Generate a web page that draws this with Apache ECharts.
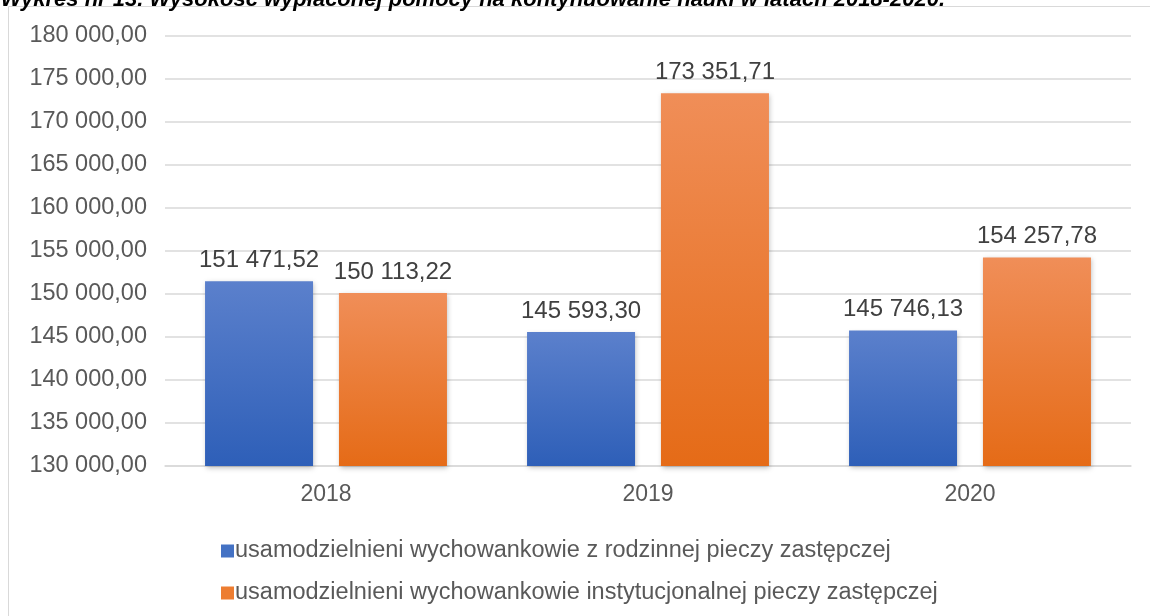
<!DOCTYPE html>
<html>
<head>
<meta charset="utf-8">
<style>
  html, body { margin: 0; padding: 0; background: #fff; }
  #container { width: 1150px; height: 616px; }
</style>
<script src="https://cdn.jsdelivr.net/npm/echarts@6/dist/echarts.min.js"></script>
</head>
<body>
<div id="container"></div>
<script>
var years = ['2018', '2019', '2020'];
var rodzinna = [151471.52, 145593.30, 145746.13];
var instytucjonalna = [150113.22, 173351.71, 154257.78];
var seriesNames = [
    'usamodzielnieni wychowankowie z rodzinnej pieczy zastępczej',
    'usamodzielnieni wychowankowie instytucjonalnej pieczy zastępczej'
];
var titleText = 'Wykres nr 13. Wysokość wypłaconej pomocy na kontynuowanie nauki w latach 2018-2020.';

// 151 471,52 style
function fmt(v){
    var parts = v.toFixed(2).split('.');
    return parts[0].replace(/\B(?=(\d{3})+(?!\d))/g, ' ') + ',' + parts[1];
}

function grad(top, bottom){
    return new echarts.graphic.LinearGradient(0, 0, 0, 1, [
        {offset: 0, color: top},
        {offset: 1, color: bottom}
    ]);
}

var font = '"Liberation Sans", Arial, sans-serif';
var myChart = echarts.init(document.getElementById('container'));

var option = {
    animation: false,
    textStyle: { fontFamily: font },
    graphic: [
        {
            type: 'rect',
            shape: { x: 8.5, y: 6.5, width: 1200, height: 700 },
            style: { fill: 'none', stroke: '#d9d9d9', lineWidth: 1 },
            silent: true
        },
        {
            type: 'text',
            x: 945, y: 11,
            style: {
                text: titleText,
                align: 'right',
                verticalAlign: 'bottom',
                font: 'italic bold 22px "Liberation Sans", Arial, sans-serif',
                fill: '#000'
            },
            silent: true
        }
    ],
    legend: {
        orient: 'vertical',
        left: 216,
        top: 534,
        itemWidth: 13,
        itemHeight: 13,
        itemGap: 18,
        icon: 'rect',
        textStyle: { fontSize: 23.5, color: '#595959', fontFamily: font, padding: [0, 0, 0, -4] },
        data: [
            { name: seriesNames[0], itemStyle: { color: '#4472c4' } },
            { name: seriesNames[1], itemStyle: { color: '#ed7d31' } }
        ]
    },
    grid: { left: 165, right: 19, top: 36, bottom: 150 },
    xAxis: {
        type: 'category',
        data: years,
        axisLine: { lineStyle: { color: '#d9d9d9', width: 1.5 } },
        axisTick: { show: false },
        axisLabel: { fontSize: 23, color: '#595959', margin: 17, fontFamily: font }
    },
    yAxis: {
        type: 'value',
        min: 130000,
        max: 180000,
        interval: 5000,
        axisLine: { show: false },
        axisTick: { show: false },
        splitLine: { lineStyle: { color: '#d9d9d9', width: 1.5 } },
        axisLabel: {
            fontSize: 23.5, color: '#595959', margin: 18, fontFamily: font,
            formatter: function(v){ return fmt(v); }
        }
    },
    series: [
        {
            name: seriesNames[0],
            type: 'bar',
            data: rodzinna,
            barWidth: 108,
            barGap: '24%',
            itemStyle: {
                color: grad('#5b80cc', '#2e5fb8'),
                shadowColor: 'rgba(0,0,0,0.25)', shadowBlur: 5, shadowOffsetX: 1, shadowOffsetY: 2
            },
            label: {
                show: true, position: 'top', distance: 9,
                fontSize: 24, color: '#404040', fontFamily: font,
                formatter: function(p){ return fmt(p.value); }
            }
        },
        {
            name: seriesNames[1],
            type: 'bar',
            data: instytucjonalna,
            barWidth: 108,
            itemStyle: {
                color: grad('#f08e58', '#e56b17'),
                shadowColor: 'rgba(0,0,0,0.25)', shadowBlur: 5, shadowOffsetX: 1, shadowOffsetY: 2
            },
            label: {
                show: true, position: 'top', distance: 9,
                fontSize: 24, color: '#404040', fontFamily: font,
                formatter: function(p){ return fmt(p.value); }
            }
        }
    ]
};
myChart.setOption(option);
</script>
</body>
</html>
